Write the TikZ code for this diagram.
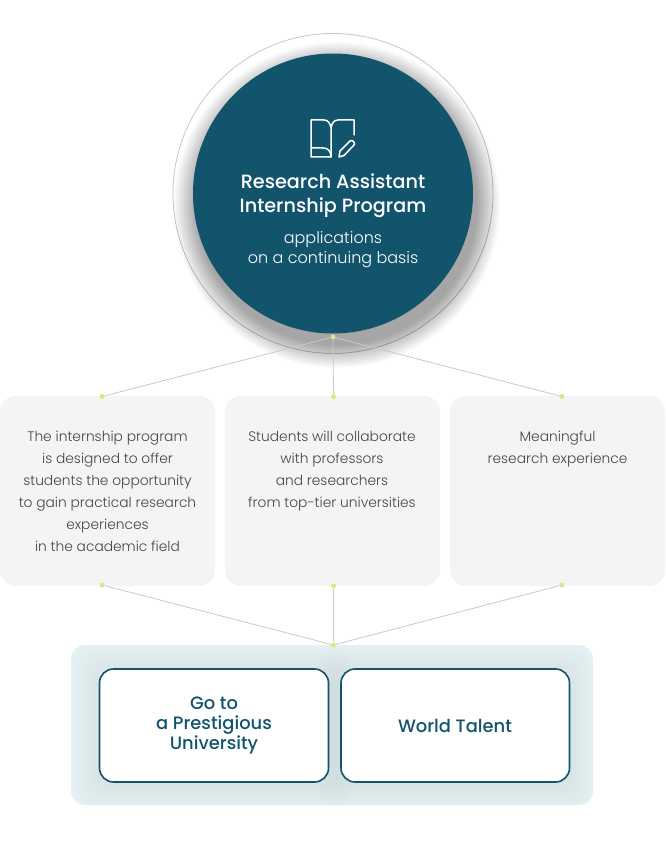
\documentclass[tikz,border=0pt]{standalone}
\usepackage{fontspec}
\setmainfont{Poppins}
\newfontfamily\poplight{Poppins Light}
\newfontfamily\popmedium{Poppins Medium}
\usetikzlibrary{positioning}
\definecolor{tealdark}{HTML}{12546C}
\definecolor{cardgray}{HTML}{F4F4F4}
\definecolor{panelblue}{HTML}{E5F0F3}
\definecolor{dotgreen}{HTML}{DCE58A}
\definecolor{linkgray}{HTML}{C9C9C9}
\definecolor{cardtext}{HTML}{454545}
\tikzset{
	dot/.style={circle, fill=dotgreen, inner sep=0pt, minimum size=5pt},
	link/.style={draw=linkgray, line width=0.8pt},
	cardtxt/.style={anchor=north, align=center, text=cardtext, font=\poplight\fontsize{13.8}{22}\selectfont},
	boxtxt/.style={align=center, text=tealdark, font=\popmedium\fontsize{17.9}{20}\selectfont},
	icon/.style={draw=white, line width=1.5pt, line join=round, line cap=round},
}
\begin{document}
\begin{tikzpicture}[x=1pt, y=-1pt]
	\useasboundingbox (0, 0) rectangle (665, 850);
	
	%%%%% CIRCLE %%%%%
	\draw[draw=black!22, line width=0.8pt, fill=white] (333, 193.5) circle (160);
	\foreach \r in {1,...,30}
		\fill[black, opacity=0.011] (337, 205) circle ({140+(30-\r)*0.8});
	\fill[tealdark] (333, 193.5) circle (140);
	
	% book icon
	\draw[icon] (331, 128) .. controls (330, 123) and (328, 120) .. (324, 120) -- (311, 120) -- (311, 157) -- (331, 157) -- cycle;
	\draw[icon] (311, 148) -- (323, 148) .. controls (328, 148) and (331, 151) .. (331, 157);
	\draw[icon] (331, 128) .. controls (332, 123) and (334, 120) .. (338, 120) -- (354, 120) -- (354, 135);
	\draw[icon] (339, 157) -- (340, 151) -- (350, 141) .. controls (352, 139) and (356, 143) .. (354, 145) -- (344, 155.5) -- cycle;
	
	\node[text=white, align=center, font=\popmedium\fontsize{19.2}{24}\selectfont] (title) at (333, 196) {Research Assistant\\Internship Program};
	\node[text=white, align=center, font=\poplight\fontsize{16}{20}\selectfont] (subtitle) at (333, 249.5) {applications\\on a continuing basis};
	
	%%%%% CARDS %%%%%
	\fill[cardgray, rounded corners=16pt] (0, 396) rectangle (215, 586);
	\fill[cardgray, rounded corners=16pt] (225, 396) rectangle (440, 586);
	\fill[cardgray, rounded corners=16pt] (450, 396) rectangle (665, 586);
	
	\node[cardtxt] (cardA) at (107.5, 428) {The internship program\\is designed to offer\\students the opportunity\\to gain practical research\\experiences\\in the academic field};
	\node[cardtxt] (cardB) at (332, 428) {Students will collaborate\\with professors\\and researchers\\from top-tier universities};
	\node[cardtxt] (cardC) at (557.5, 428) {Meaningful\\research experience};
	
	%%%%% PANEL %%%%%
	\fill[panelblue, rounded corners=14pt] (71, 645) rectangle (593, 805);
	\foreach \r in {1,...,12} {
		\fill[tealdark, opacity=0.003, rounded corners=18pt] ({99.5-\r*2}, {672-\r*2}) rectangle ({328.5+\r*2}, {786+\r*2});
		\fill[tealdark, opacity=0.003, rounded corners=18pt] ({341-\r*2}, {672-\r*2}) rectangle ({569.5+\r*2}, {786+\r*2});
	}
	\draw[draw=tealdark, fill=white, line width=1.6pt, rounded corners=14pt] (99.5, 669) rectangle (328.5, 782);
	\draw[draw=tealdark, fill=white, line width=1.6pt, rounded corners=14pt] (341, 669) rectangle (569.5, 782);
	
	\node[boxtxt] (goto) at (214, 725.5) {Go to\\a Prestigious\\University};
	\node[boxtxt] (talent) at (455, 725.5) {World Talent};
	
	%%%%% LINKS %%%%%
	\node[dot] (hubtop) at (333, 337) {};
	\node[dot] (inA) at (102, 396.5) {};
	\node[dot] (inB) at (333.5, 396.5) {};
	\node[dot] (inC) at (562, 396.5) {};
	\node[dot] (outA) at (102, 585) {};
	\node[dot] (outB) at (333.5, 586) {};
	\node[dot] (outC) at (562, 585) {};
	\node[dot] (hubbot) at (333.5, 645) {};
	
	\draw[link] (hubtop) -- (inA);
	\draw[link] (hubtop) -- (inB);
	\draw[link] (hubtop) -- (inC);
	\draw[link] (outA) -- (hubbot);
	\draw[link] (outB) -- (hubbot);
	\draw[link] (outC) -- (hubbot);
\end{tikzpicture}
\end{document}
